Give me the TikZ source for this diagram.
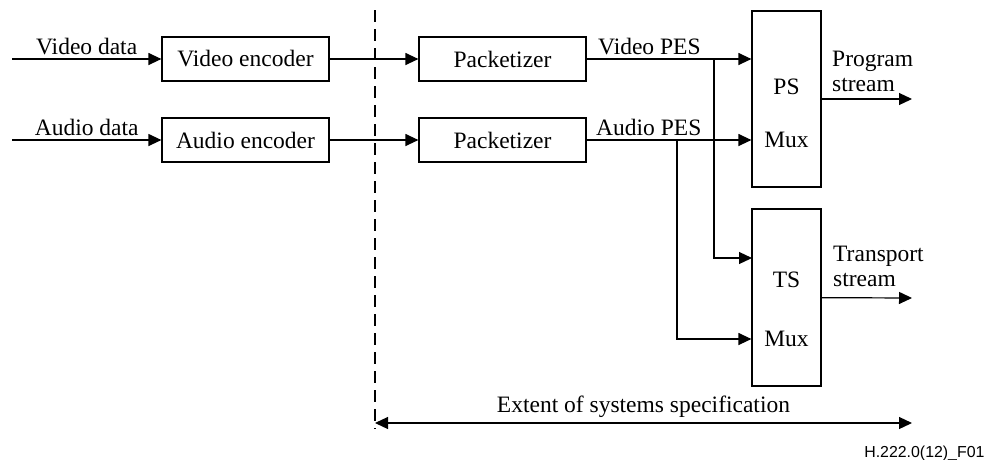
\documentclass[tikz,border=0pt]{standalone}
\usepackage{fontspec}
\setmainfont{Liberation Serif}
\newfontfamily\figidfont{Liberation Sans}
\usetikzlibrary{arrows.meta}

\begin{document}
\begin{tikzpicture}
	[x=1pt,y=-1pt,
	%Styles
	every node/.style={font=\fontsize{23.5}{25}\selectfont},
	flow/.style={line width=1.2pt,-{Triangle[length=13pt,width=12pt]}},
	both flow/.style={line width=1.2pt,{Triangle[length=13pt,width=12pt]}-{Triangle[length=13pt,width=12pt]}},
	block/.style={draw,line width=1.2pt,minimum width=167pt,minimum height=44pt,inner sep=0pt},
	muxbox/.style={draw,line width=1.2pt,minimum width=69pt,minimum height=176pt,inner sep=0pt},
	split line/.style={line width=1.2pt,dash pattern=on 12pt off 7pt},
	wire text/.style={pos=0,anchor=south west,inner sep=0pt,align=left}
	]
	
	\useasboundingbox (0,0) rectangle (990,459);
	
	%Blocks
	\node[block] (venc) at (245.5,59) {Video encoder};
	\node[block] (aenc) at (245.5,140) {Audio encoder};
	\node[block] (vpkt) at (502.5,59) {Packetizer};
	\node[block] (apkt) at (502.5,140) {Packetizer};
	
	\node[muxbox] (psmux) at (786.5,99) {};
	\node[muxbox,minimum height=177pt] (tsmux) at (786.5,297.5) {};
	
	\node (pslbl) at (786.5,87) {PS};
	\node (psmuxlbl) at (786.5,140) {Mux};
	\node (tslbl) at (786.5,280) {TS};
	\node (tsmuxlbl) at (786.5,339) {Mux};
	
	%Points
	\coordinate (vin) at (12,59);
	\coordinate (ain) at (12,140);
	\coordinate (vbr) at (714,59);
	\coordinate (abr) at (677,140);
	\coordinate (tsvin) at (752,258);
	\coordinate (psout) at (912,99);
	\coordinate (tsout) at (912,298);
	\coordinate (cuttop) at (375,10);
	\coordinate (cutbot) at (375,429);
	\coordinate (extl) at (375,423);
	\coordinate (extr) at (912,423);
	
	%The graphic
	\draw[split line] (cuttop) -- (cutbot);
	
	\draw[flow] (vin) -- node[above=2pt,inner sep=2pt]{Video data} (venc);
	\draw[flow] (ain) -- node[above=2pt,inner sep=2pt]{Audio data} (aenc);
	
	\draw[flow] (venc) -- (vpkt);
	\draw[flow] (aenc) -- (apkt);
	
	\draw[flow] (vpkt) -- node[wire text,xshift=11pt,yshift=4pt]{Video PES} (vpkt -| psmux.west);
	\draw[flow] (apkt) -- node[wire text,xshift=9pt,yshift=4pt]{Audio PES} (apkt -| psmux.west);
	
	\draw[flow] (vbr) |- (tsvin);
	\draw[flow] (abr) |- (tsmux.west |- tsmuxlbl);
	
	\draw[flow] (psmux) -- node[wire text,xshift=10pt,yshift=7pt]{Program\\stream} (psout);
	\draw[flow] (tsmux) -- node[wire text,xshift=11pt,yshift=10pt]{Transport\\stream} (tsout);
	
	\draw[both flow] (extl) -- node[above=3pt,inner sep=2pt]{Extent of systems specification} (extr);
	
	\node[anchor=base east,font=\figidfont\fontsize{15.9}{18}\selectfont] (figid) at (988,457) {H.222.0(12)\_F01};
\end{tikzpicture}
\end{document}
